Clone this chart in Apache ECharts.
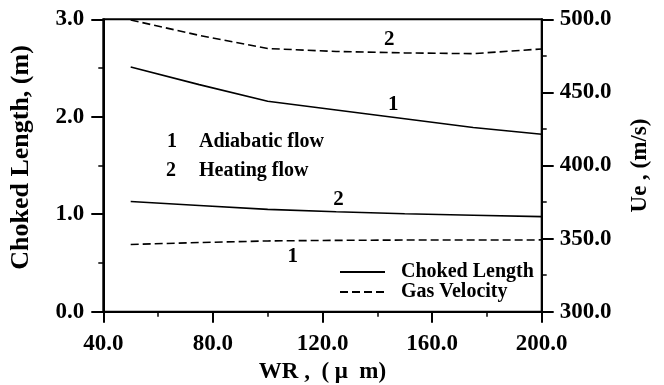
<!DOCTYPE html>
<html>
<head>
<meta charset="utf-8">
<script src="https://cdn.jsdelivr.net/npm/echarts@6/dist/echarts.min.js"></script>
<style>html,body{margin:0;padding:0;background:#fff}#c{width:664px;height:385px}</style>
</head>
<body>
<div id="c"></div>
<script>
// ---- data ----
var wr = [50, 75, 100, 125, 150, 175, 200];
var chokedAdiabatic = [2.51, 2.33, 2.16, 2.07, 1.98, 1.89, 1.82];
var chokedHeating = [1.13, 1.09, 1.05, 1.025, 1.005, 0.99, 0.975];
var velocityAdiabatic = [346.0, 347.3, 348.4, 348.8, 349.0, 349.0, 349.1];
var velocityHeating = [499.5, 489.0, 480.0, 478.0, 477.0, 476.5, 479.7];
var xTicks = [40, 80, 120, 160, 200];
var leftTicks = [0, 1, 2, 3];
var rightTicks = [300, 350, 400, 450, 500];
// curve number labels: [WR, value, text]
var leftCurveLabels = [[145.8, 2.12, '1'], [125.8, 1.153, '2']];
var rightCurveLabels = [[144.4, 485.8, '2'], [109.1, 337.6, '1']];
var noteNums = ['1', '2'];
var noteTexts = ['Adiabatic flow', 'Heating flow'];
var legendNames = ['Choked Length', 'Gas Velocity'];

var FF = '"Liberation Serif","Times New Roman",serif';
function pair(xs, ys) { return xs.map(function (x, i) { return [x, ys[i]]; }); }
var chart = echarts.init(document.getElementById('c'), null, {renderer: 'canvas'});
var tickLab = {fontFamily: FF, fontWeight: 'bold', fontSize: 23, color: '#000',
  formatter: function (v) { return Number(v).toFixed(1); }};
var axLine = {show: true, onZero: false, lineStyle: {color: '#000', width: 2}};
var dash = [8, 4];
var curveLabel = {show: true, position: 'inside', formatter: '{b}', fontFamily: FF, fontWeight: 'bold',
  fontSize: 21, color: '#000', textBorderWidth: 0, opacity: 1};

var option = {
  animation: false,
  backgroundColor: '#fff',
  grid: {left: 103.3, right: 122.3, top: 19.3, bottom: 73.3, show: true, containLabel: false,
    outerBoundsMode: 'none',
    borderColor: '#000', borderWidth: 2, backgroundColor: 'transparent'},
  legend: {
    orient: 'vertical', left: 339, top: 262, padding: 0, itemGap: 0, itemWidth: 45, itemHeight: 14,
    data: legendNames,
    itemStyle: {opacity: 0},
    textStyle: {fontFamily: FF, fontWeight: 'bold', fontSize: 20, color: '#000', padding: [0, 0, 0, 11]}
  },
  xAxis: {
    type: 'value', min: xTicks[0], max: xTicks[xTicks.length - 1], interval: 40,
    name: 'WR ,  ( μ  m)', nameLocation: 'middle', nameGap: 48,
    nameTextStyle: {fontFamily: FF, fontWeight: 'bold', fontSize: 23, color: '#000'},
    axisLine: axLine, splitLine: {show: false},
    axisTick: {show: true, inside: false, length: 11, lineStyle: {color: '#000', width: 2}},
    minorTick: {show: true, splitNumber: 2, length: 5, lineStyle: {color: '#000', width: 1.5}},
    axisLabel: Object.assign({margin: 21}, tickLab)
  },
  yAxis: [{
    type: 'value', position: 'left', min: leftTicks[0], max: leftTicks[leftTicks.length - 1], interval: 1,
    name: 'Choked Length, (m)', nameLocation: 'middle', nameGap: 69, nameRotate: 90,
    nameTextStyle: {fontFamily: FF, fontWeight: 'bold', fontSize: 26, color: '#000', padding: [0, 0, 0, 16]},
    axisLine: axLine, splitLine: {show: false},
    axisTick: {show: true, inside: false, length: 12, lineStyle: {color: '#000', width: 2}},
    minorTick: {show: true, splitNumber: 2, length: 5, lineStyle: {color: '#000', width: 1.5}},
    axisLabel: Object.assign({margin: 19}, tickLab)
  }, {
    type: 'value', position: 'right', min: rightTicks[0], max: rightTicks[rightTicks.length - 1], interval: 50,
    name: 'Ue , (m/s)', nameLocation: 'middle', nameGap: 87, nameRotate: 90,
    nameTextStyle: {fontFamily: FF, fontWeight: 'bold', fontSize: 23, color: '#000'},
    axisLine: axLine, splitLine: {show: false},
    axisTick: {show: true, inside: false, length: 12, lineStyle: {color: '#000', width: 2}},
    minorTick: {show: true, splitNumber: 2, length: 5, lineStyle: {color: '#000', width: 1.5}},
    axisLabel: Object.assign({margin: 18}, tickLab)
  }],
  series: [
    {name: legendNames[0], type: 'line', yAxisIndex: 0, data: pair(wr, chokedAdiabatic), symbol: 'none',
      lineStyle: {color: '#000', width: 1.6}, itemStyle: {color: '#000'}},
    {name: legendNames[0], type: 'line', yAxisIndex: 0, data: pair(wr, chokedHeating), symbol: 'none',
      lineStyle: {color: '#000', width: 1.6}, itemStyle: {color: '#000'}},
    {name: legendNames[1], type: 'line', yAxisIndex: 1, data: pair(wr, velocityAdiabatic), symbol: 'none',
      lineStyle: {color: '#000', width: 1.6, type: dash}, itemStyle: {color: '#000'}},
    {name: legendNames[1], type: 'line', yAxisIndex: 1, data: pair(wr, velocityHeating), symbol: 'none',
      lineStyle: {color: '#000', width: 1.6, type: dash}, itemStyle: {color: '#000'}},
    {type: 'scatter', yAxisIndex: 0, symbolSize: 0, silent: true, itemStyle: {color: '#000', opacity: 1},
      data: leftCurveLabels.map(function (d) { return {value: [d[0], d[1]], name: d[2]}; }),
      label: curveLabel},
    {type: 'scatter', yAxisIndex: 1, symbolSize: 0, silent: true, itemStyle: {color: '#000', opacity: 1},
      data: rightCurveLabels.map(function (d) { return {value: [d[0], d[1]], name: d[2]}; }),
      label: curveLabel}
  ],
  graphic: [
    {type: 'text', left: 167, top: 132, style: {text: noteNums[0], font: 'bold 20px ' + FF, fill: '#000'}},
    {type: 'text', left: 199, top: 132, style: {text: noteTexts[0], font: 'bold 20px ' + FF, fill: '#000'}},
    {type: 'text', left: 166, top: 161, style: {text: noteNums[1], font: 'bold 20px ' + FF, fill: '#000'}},
    {type: 'text', left: 199, top: 161, style: {text: noteTexts[1], font: 'bold 20px ' + FF, fill: '#000'}}
  ]
};
chart.setOption(option);
</script>
</body>
</html>
